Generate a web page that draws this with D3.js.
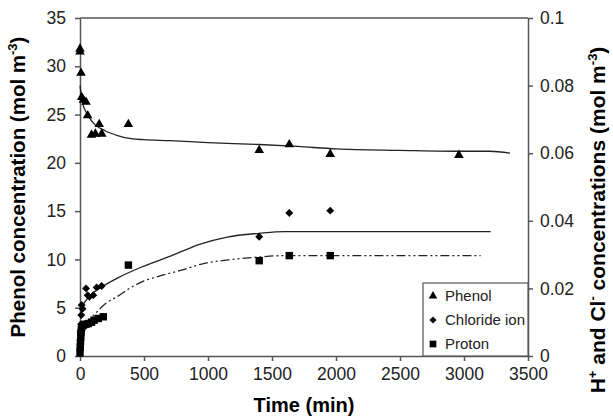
<!DOCTYPE html>
<html lang="en">
<head>
  <meta charset="UTF-8">
  <title>Phenol, chloride and proton concentrations</title>
  <script src="https://cdnjs.cloudflare.com/ajax/libs/d3/7.8.5/d3.min.js"></script>
  <style>
    body {
      margin: 0;
      background: white;
    }
    svg {
      display: block;
      font-family: "Liberation Sans", Arial, sans-serif;
    }
    .axis path, .axis line {
      stroke: #555;
      stroke-width: 1.5;
    }
    .axis text {
      font-size: 17.5px;
      fill: #222;
    }
  </style>
</head>
<body>
  <script>
    // measured points (time in min)
    var phenolTime = [0, 0, 8, 13, 26, 47, 60, 90, 120, 150, 170, 378, 1400, 1635, 1955, 2960];
    var phenolConc = [31.8, 31.5, 29.3, 26.8, 26.5, 26.3, 24.9, 22.9, 23.0, 24.0, 23.0, 24.0, 21.3, 21.9, 20.9, 20.8];

    var chlorideTime = [0, 3, 5, 8, 10, 13, 20, 47, 60, 73, 104, 130, 169, 1400, 1635, 1955];
    var chlorideConc = [0.0023, 0.0046, 0.0071, 0.0094, 0.0121, 0.0151, 0.014, 0.02, 0.018, 0.0175, 0.018, 0.0203, 0.0207, 0.0353, 0.0423, 0.043];

    var protonTime = [0, 2, 4, 6, 8, 10, 15, 26, 45, 65, 90, 110, 143, 182, 378, 1400, 1635, 1955];
    var protonConc = [0.0009, 0.0026, 0.0043, 0.0057, 0.0069, 0.0077, 0.0086, 0.0091, 0.0094, 0.0096, 0.01, 0.0106, 0.0111, 0.0116, 0.0269, 0.0282, 0.0297, 0.0297];

    // model curves
    var phenolFitTime = [0, 20, 50, 100, 200, 300, 400, 500, 700, 1000, 1400, 1700, 2000, 2500, 3000, 3200, 3360];
    var phenolFit = [28.0, 26.2, 25.2, 24.2, 23.3, 22.8, 22.5, 22.4, 22.3, 22.1, 21.9, 21.7, 21.45, 21.3, 21.2, 21.2, 21.0];

    var chlorideFitTime = [0, 20, 70, 170, 300, 500, 730, 940, 1150, 1400, 1600, 3208];
    var chlorideFit = [0.012, 0.0146, 0.0175, 0.0204, 0.0232, 0.0266, 0.0299, 0.0331, 0.0352, 0.0363, 0.0368, 0.0368];

    var protonFitTime = [30, 60, 100, 200, 300, 400, 500, 600, 800, 950, 1200, 1400, 1600, 3130];
    var protonFit = [0.0094, 0.0103, 0.0118, 0.0155, 0.0178, 0.0203, 0.0222, 0.0234, 0.0255, 0.0272, 0.0286, 0.0293, 0.0297, 0.0297];

    var xTicks = [0, 500, 1000, 1500, 2000, 2500, 3000, 3500];
    var yTicks = [0, 5, 10, 15, 20, 25, 30, 35];
    var y2Ticks = [0, 0.02, 0.04, 0.06, 0.08, 0.1];

    var legendNames = ["Phenol", "Chloride ion", "Proton"];
    var legendShapes = [d3.symbolTriangle, d3.symbolDiamond2, d3.symbolSquare];

    function zip(a, b) {
      return a.map(function(d, i) {
        return [d, b[i]];
      });
    }

    var w = 613;
    var h = 420;
    var plotLeft = 80, plotRight = 528, plotTop = 18, plotBottom = 356;

    var svg = d3.select("body").append("svg")
      .attr("width", w)
      .attr("height", h);

    var xScale = d3.scaleLinear().domain([0, 3500]).range([plotLeft, plotRight]);
    var yScale = d3.scaleLinear().domain([0, 35]).range([plotBottom, plotTop]);
    var y2Scale = d3.scaleLinear().domain([0, 0.1]).range([plotBottom, plotTop]);

    // top frame line
    svg.append("line")
      .attr("x1", plotLeft).attr("x2", plotRight)
      .attr("y1", plotTop).attr("y2", plotTop)
      .attr("stroke", "#555")
      .attr("stroke-width", 1.5);

    svg.append("g")
      .attr("class", "axis")
      .attr("transform", "translate(0," + plotBottom + ")")
      .call(d3.axisBottom(xScale).tickValues(xTicks).tickFormat(d3.format("d"))
        .tickSize(5).tickSizeOuter(0).tickPadding(7));

    svg.append("g")
      .attr("class", "axis")
      .attr("transform", "translate(" + plotLeft + ",0)")
      .call(d3.axisLeft(yScale).tickValues(yTicks).tickSize(5).tickSizeOuter(0).tickPadding(9));

    svg.append("g")
      .attr("class", "axis")
      .attr("transform", "translate(" + plotRight + ",0)")
      .call(d3.axisRight(y2Scale).tickValues(y2Ticks).tickSize(5).tickSizeOuter(0).tickPadding(7)
        .tickFormat(function(d) {
          return String(+d.toFixed(2));
        }));

    // fitted curves
    var line1 = d3.line()
      .x(function(d) { return xScale(d[0]); })
      .y(function(d) { return yScale(d[1]); })
      .curve(d3.curveMonotoneX);
    var line2 = d3.line()
      .x(function(d) { return xScale(d[0]); })
      .y(function(d) { return y2Scale(d[1]); })
      .curve(d3.curveMonotoneX);

    svg.append("path")
      .attr("d", line1(zip(phenolFitTime, phenolFit)))
      .attr("fill", "none")
      .attr("stroke", "#222")
      .attr("stroke-width", 1.3);

    svg.append("path")
      .attr("d", line2(zip(chlorideFitTime, chlorideFit)))
      .attr("fill", "none")
      .attr("stroke", "#222")
      .attr("stroke-width", 1.3);

    svg.append("path")
      .attr("d", line2(zip(protonFitTime, protonFit)))
      .attr("fill", "none")
      .attr("stroke", "#222")
      .attr("stroke-width", 1.3)
      .attr("stroke-dasharray", "9,3,2,3,2,3");

    // markers
    function drawPoints(data, scale, shape, size) {
      svg.append("g").selectAll("path")
        .data(data)
        .enter()
        .append("path")
        .attr("transform", function(d) {
          return "translate(" + xScale(d[0]) + "," + scale(d[1]) + ")";
        })
        .attr("d", d3.symbol().type(shape).size(size))
        .attr("fill", "black");
    }

    drawPoints(zip(phenolTime, phenolConc), yScale, d3.symbolTriangle, 40);
    drawPoints(zip(chlorideTime, chlorideConc), y2Scale, d3.symbolDiamond2, 40);
    drawPoints(zip(protonTime, protonConc), y2Scale, d3.symbolSquare, 55);

    // legend
    var legend = svg.append("g");
    legend.append("rect")
      .attr("x", 423).attr("y", 283)
      .attr("width", plotRight - 423).attr("height", plotBottom - 283)
      .attr("fill", "white")
      .attr("stroke", "#555")
      .attr("stroke-width", 1.2);

    legendNames.forEach(function(name, i) {
      var ly = 296 + i * 24;
      legend.append("path")
        .attr("transform", "translate(433," + ly + ")")
        .attr("d", d3.symbol().type(legendShapes[i]).size(i === 2 ? 45 : 32))
        .attr("fill", "black");
      legend.append("text")
        .attr("x", 445)
        .attr("y", ly)
        .attr("dy", "0.35em")
        .style("font-size", "15px")
        .attr("fill", "#222")
        .text(name);
    });

    // axis titles
    svg.append("text")
      .attr("x", (plotLeft + plotRight) / 2)
      .attr("y", 412)
      .attr("text-anchor", "middle")
      .style("font-size", "20px")
      .style("font-weight", "bold")
      .text("Time (min)");

    var yTitle = svg.append("text")
      .attr("transform", "translate(25," + ((plotTop + plotBottom) / 2) + ") rotate(-90)")
      .attr("text-anchor", "middle")
      .style("font-size", "20.5px")
      .style("font-weight", "bold");
    yTitle.append("tspan").text("Phenol concentration (mol m");
    yTitle.append("tspan").attr("dy", -8).style("font-size", "13px").text("-3");
    yTitle.append("tspan").attr("dy", 8).text(")");

    var y2Title = svg.append("text")
      .attr("transform", "translate(605,220) rotate(-90)")
      .attr("text-anchor", "middle")
      .style("font-size", "21px")
      .style("font-weight", "bold");
    y2Title.append("tspan").text("H");
    y2Title.append("tspan").attr("dy", -8).style("font-size", "13px").text("+");
    y2Title.append("tspan").attr("dy", 8).text(" and Cl");
    y2Title.append("tspan").attr("dy", -8).style("font-size", "13px").text("-");
    y2Title.append("tspan").attr("dy", 8).text(" concentrations (mol m");
    y2Title.append("tspan").attr("dy", -8).style("font-size", "13px").text("-3");
    y2Title.append("tspan").attr("dy", 8).text(")");
  </script>
</body>
</html>
